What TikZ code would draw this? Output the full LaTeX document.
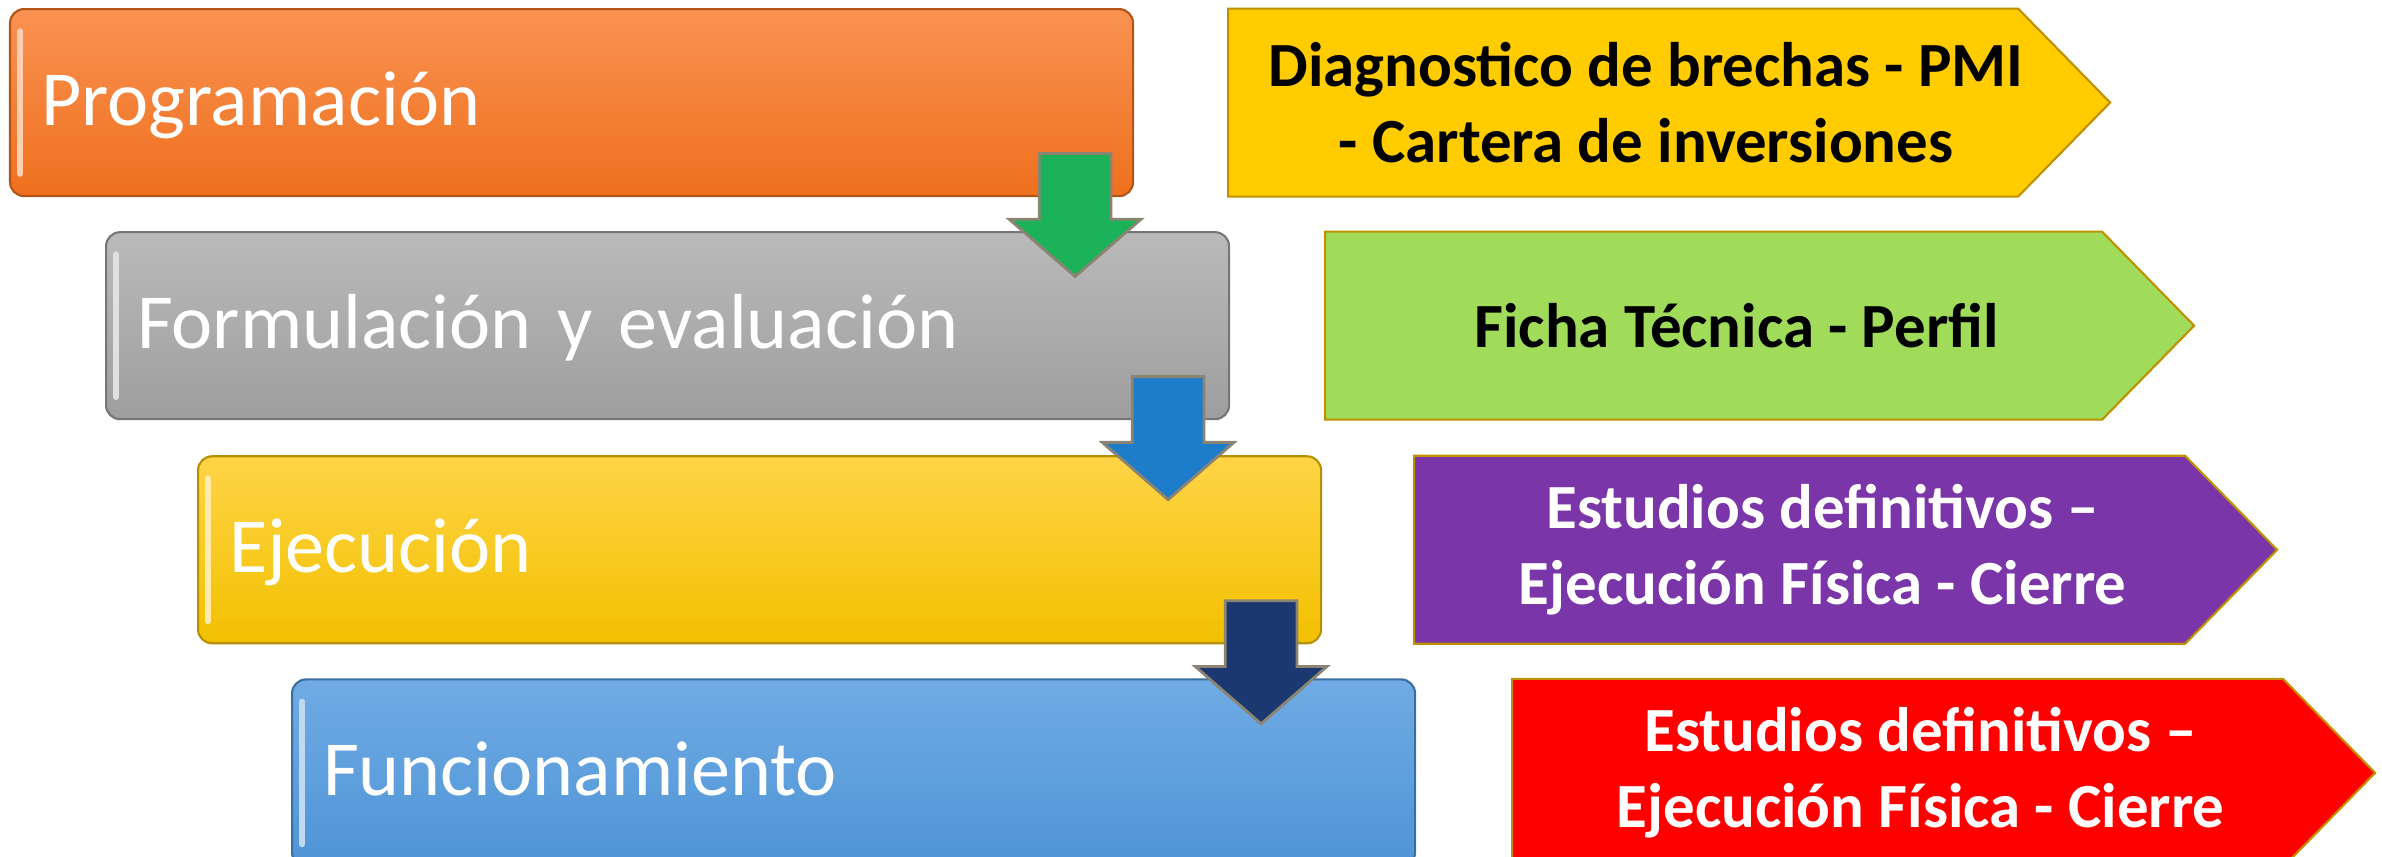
\documentclass[tikz,border=0pt]{standalone}
\usepackage{fontspec}
\setmainfont{Carlito}
\usetikzlibrary{positioning, backgrounds, shapes.arrows}

\definecolor{naranjaA}{RGB}{250,146,82}
\definecolor{naranjaB}{RGB}{238,112,30}
\definecolor{grisA}{RGB}{186,186,186}
\definecolor{grisB}{RGB}{158,158,158}
\definecolor{amarilloA}{RGB}{255,212,70}
\definecolor{amarilloB}{RGB}{242,192,0}
\definecolor{azulA}{RGB}{112,171,228}
\definecolor{azulB}{RGB}{78,148,214}
\definecolor{amaPunta}{RGB}{255,204,0}
\definecolor{verdePunta}{RGB}{160,220,90}
\definecolor{moradoPunta}{RGB}{122,53,168}
\definecolor{rojoPunta}{RGB}{255,0,0}
\definecolor{bordePunta}{RGB}{191,144,0}
\definecolor{flechaVerde}{RGB}{27,178,90}
\definecolor{flechaAzul}{RGB}{30,125,202}
\definecolor{flechaMarino}{RGB}{28,56,112}
\definecolor{bordeFlecha}{RGB}{140,132,115}

\tikzset{%
  fase/.style={
    rectangle,
    rounded corners=0.14cm,
    draw=#1B!75!black,
    line width=0.6pt,
    top color=#1A,
    bottom color=#1B,
    text=white,
    font=\fontsize{22.2pt}{26.6pt}\selectfont,
    text width=10.61cm,
    align=left,
    inner xsep=0.31cm,
    inner ysep=0pt,
    minimum height=1.87cm,
    text height=0.62cm,
    text depth=0.16cm,
    path picture={
      \draw[white!55!#1A, line width=1.6pt, line cap=round]
        ([xshift=0.1cm, yshift=-0.22cm]path picture bounding box.north west)
        -- ([xshift=0.1cm, yshift=0.22cm]path picture bounding box.south west);
    }
  },
  punta/.style={
    rectangle,
    inner sep=0pt,
    outer sep=0pt,
    minimum height=1.88cm,
    align=center,
    font=\bfseries\fontsize{17.9pt}{21.6pt}\selectfont
  },
  fondo punta/.style={fill=#1, draw=bordePunta, line width=0.6pt},
  bajada/.style={
    single arrow,
    single arrow head extend=0.30cm,
    single arrow tip angle=98,
    minimum height=1.23cm,
    minimum width=1.29cm,
    inner xsep=0pt,
    inner ysep=0.345cm,
    fill=#1,
    draw=bordeFlecha,
    line width=0.8pt,
    rotate=-90,
    anchor=tail
  }
}

\begin{document}
\begin{tikzpicture}
  \useasboundingbox (0,0) rectangle (23.82,-8.56);
  % fases
  \node[fase=naranja, anchor=north west] (prog) at (0.09,-0.08) {Programación};
  \node[fase=gris, below=0.34 of prog.south west, anchor=north west, xshift=0.96cm] (form) {Formulación y evaluación};
  \node[fase=amarillo, below=0.35 of form.south west, anchor=north west, xshift=0.92cm] (ejec) {Ejecución};
  \node[fase=azul, below=0.34 of ejec.south west, anchor=north west, xshift=0.94cm] (func) {Funcionamiento};
  % productos
  \node[punta, minimum width=8.36cm, right=0.94 of prog] (diag) {Diagnostico de brechas - PMI\\- Cartera de inversiones};
  \node[punta, minimum width=8.23cm, right=0.95 of form] (ficha) {Ficha Técnica - Perfil};
  \node[punta, minimum width=8.17cm, right=0.92 of ejec, text=white] (estu) {Estudios definitivos –\\Ejecución Física - Cierre};
  \node[punta, minimum width=8.17cm, right=0.96 of func, text=white] (cier) {Estudios definitivos –\\Ejecución Física - Cierre};
  \begin{scope}[on background layer]
    \foreach \n/\c in {diag/amaPunta, ficha/verdePunta, estu/moradoPunta, cier/rojoPunta}
      \path[fondo punta=\c] (\n.north west) -- ([xshift=-0.46cm]\n.north east) -- ([xshift=0.46cm]\n.east)
        -- ([xshift=-0.46cm]\n.south east) -- (\n.south west) -- cycle;
  \end{scope}
  % flechas
  \node[bajada=flechaVerde] (b1) at ([xshift=-0.59cm, yshift=0.45cm]prog.south east) {};
  \node[bajada=flechaAzul] (b2) at ([xshift=-0.62cm, yshift=0.45cm]form.south east) {};
  \node[bajada=flechaMarino] (b3) at ([xshift=-0.61cm, yshift=0.45cm]ejec.south east) {};
\end{tikzpicture}
\end{document}
